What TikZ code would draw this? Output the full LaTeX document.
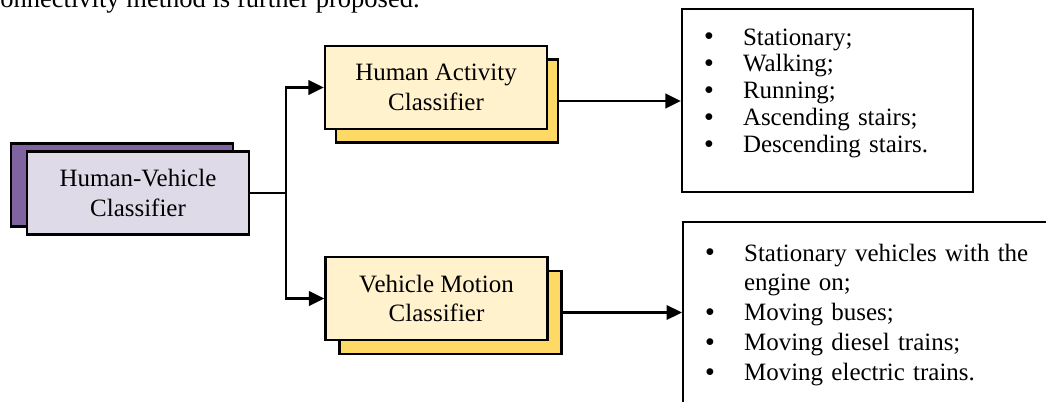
\documentclass[tikz,border=0pt]{standalone}
\usepackage{fontspec}
\setmainfont{Liberation Serif}
\usetikzlibrary{arrows.meta,calc,positioning}

\definecolor{hvdark}{HTML}{8064A2}
\definecolor{hvlight}{HTML}{DFDAE8}
\definecolor{cldark}{HTML}{FFD966}
\definecolor{cllight}{HTML}{FFF2CC}

\newcommand{\blockfont}{\fontsize{14.2}{17}\selectfont}
\newcommand{\actfont}{\fontsize{14.2}{15.3}\selectfont}
\newcommand{\itemdot}{\raisebox{2.4pt}{$\scriptstyle\bullet$}}

\tikzset{
    clf diagram/.style = {>={Triangle[length=3.1mm, width=2.9mm]}},
    line/.style        = {line width=1.3pt},
    block/.style       = {draw, line width=1.3pt, minimum width=4.44cm,
                          minimum height=1.66cm, align=center,
                          font=\blockfont},
    hvfront/.style     = {block, fill=hvlight},
    hvback/.style      = {block, fill=hvdark},
    clfront/.style     = {block, fill=cllight},
    clback/.style      = {block, fill=cldark},
    listbox/.style     = {draw, line width=1.3pt, align=left,
                          inner xsep=0.45cm}
}

\begin{document}
\begin{tikzpicture}[clf diagram]
\useasboundingbox (0,0) rectangle (20.92,-8.02);
\clip (0,0) rectangle (20.92,-8.02);

% ================= line of the text above =================
\node[anchor=base east, inner sep=0pt, font=\fontsize{15.1}{18}\selectfont]
    (prevline) at (8.4,-0.14) {connectivity method is further proposed.};

% ================= Human-Vehicle classifier =================
\node[hvback]  (HVback) at (2.44,-3.70) {};
\node[hvfront] (HV)     at (2.76,-3.86) {Human-Vehicle\\Classifier};

% ================= Second stage =================
\node[clback]  (HAback) at (8.94,-2.02) {};
\node[clfront] (HA)     at (8.72,-1.75) {Human Activity\\Classifier};

\node[clback]  (VMback) at (9.01,-6.25) {};
\node[clfront] (VM)     at (8.73,-5.97) {Vehicle Motion\\Classifier};

% ================= Output classes =================
\node[listbox, minimum height=3.66cm, text width=4.92cm, font=\actfont]
    (actlist) at (16.55,-2.01) {\noindent
    \begin{tabular}{@{}p{0.77cm}@{}l@{}}
    \itemdot & Stationary;\\
    \itemdot & Walking;\\
    \itemdot & Running;\\
    \itemdot & Ascending stairs;\\
    \itemdot & Descending stairs.\\[0.28cm]
    \end{tabular}};

\node[listbox, anchor=north west, inner ysep=0.36cm, text width=6.9cm,
      font=\blockfont] (vehlist) at (13.64,-4.42) {\noindent
    \begin{tabular}{@{}p{0.77cm}@{}l@{}}
    \itemdot & Stationary vehicles with the\\
             & engine on;\\
    \itemdot & Moving buses;\\
    \itemdot & Moving diesel trains;\\
    \itemdot & Moving electric trains.\\[0.4cm]
    \end{tabular}};

% ================= Connectors =================
\coordinate (split) at ([xshift=0.72cm]HV.east);
\draw[line] (HV.east) -- (split);
\draw[->, line] (split) |- (HA.west);
\draw[->, line] (split) |- (VM.west);
\draw[->, line] (HAback.east) -- (HAback.east -| actlist.west);
\draw[->, line] (VMback.east) -- (VMback.east -| vehlist.west);

\end{tikzpicture}
\end{document}
